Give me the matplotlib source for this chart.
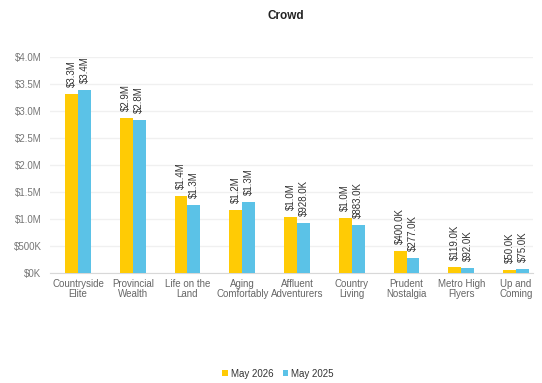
import matplotlib.pyplot as plt
import matplotlib.ticker as plticker
import numpy as np

plt.rcParams['font.family'] = ['Liberation Sans', 'DejaVu Sans']

categories = ['Countryside\nElite', 'Provincial\nWealth', 'Life on the\nLand', 'Aging\nComfortably',
              'Affluent\nAdventurers', 'Country\nLiving', 'Prudent\nNostalgia', 'Metro High\nFlyers', 'Up and\nComing']
may_2026 = [3310000, 2870000, 1420000, 1170000, 1040000, 1020000, 400000, 119000, 50000]
may_2025 = [3390000, 2830000, 1260000, 1310000, 928000, 883000, 277000, 92000, 75000]
series_names = ['May 2026', 'May 2025']
colors = ['#FFCB05', '#5BC2E7']


def fmt_label(v):
    if v >= 1e6:
        return '${:.1f}M'.format(v / 1e6)
    return '${:.1f}K'.format(v / 1e3)


def fmt_tick(v, pos):
    if v >= 1e6:
        return '${:.1f}M'.format(v / 1e6)
    return '${:.0f}K'.format(v / 1e3)


fig = plt.figure(figsize=(5.42, 3.83), dpi=100)
# plot area: x 50..533 px, y 57..273 px
ax = fig.add_axes([50 / 542, 1 - 273 / 383, 483 / 542, 216 / 383])

x = np.arange(len(categories))
w = 0.237
bars1 = ax.bar(x - w / 2, may_2026, w, color=colors[0], label=series_names[0], zorder=3)
bars2 = ax.bar(x + w / 2, may_2025, w, color=colors[1], label=series_names[1], zorder=3)

for bars, vals in [(bars1, may_2026), (bars2, may_2025)]:
    for b, v in zip(bars, vals):
        ax.annotate(fmt_label(v), (b.get_x() + b.get_width() / 2, v), xytext=(0, 5),
                    textcoords='offset points', rotation=90, ha='center', va='bottom',
                    fontsize=7, color='#333333')

ax.set_ylim(0, 4000000)
ax.set_xlim(-0.511, 8.31)
ax.yaxis.set_major_locator(plticker.MultipleLocator(500000))
ax.yaxis.set_major_formatter(plticker.FuncFormatter(fmt_tick))
ax.grid(axis='y', color='#F0F0F0', lw=1, zorder=0)
for s in ['top', 'right', 'left']:
    ax.spines[s].set_visible(False)
ax.spines['bottom'].set_color('#D8D8D8')
ax.set_xticks(x)
ax.set_xticklabels(categories, fontsize=7, color='#666666', linespacing=1.0)
ax.tick_params(axis='y', labelsize=7, labelcolor='#777777', length=0, pad=6)
ax.tick_params(axis='x', length=0, pad=4)

fig.suptitle('Crowd', x=0.527, y=0.975, fontsize=8.5, fontweight='bold', color='#222222')
fig.legend(loc='center', bbox_to_anchor=(0.513, 0.024), ncol=2, frameon=False, fontsize=7,
           handlelength=0.55, handleheight=0.55, handletextpad=0.3, columnspacing=1.0,
           labelcolor='#333333')

fig.savefig('out.png', dpi=100)
